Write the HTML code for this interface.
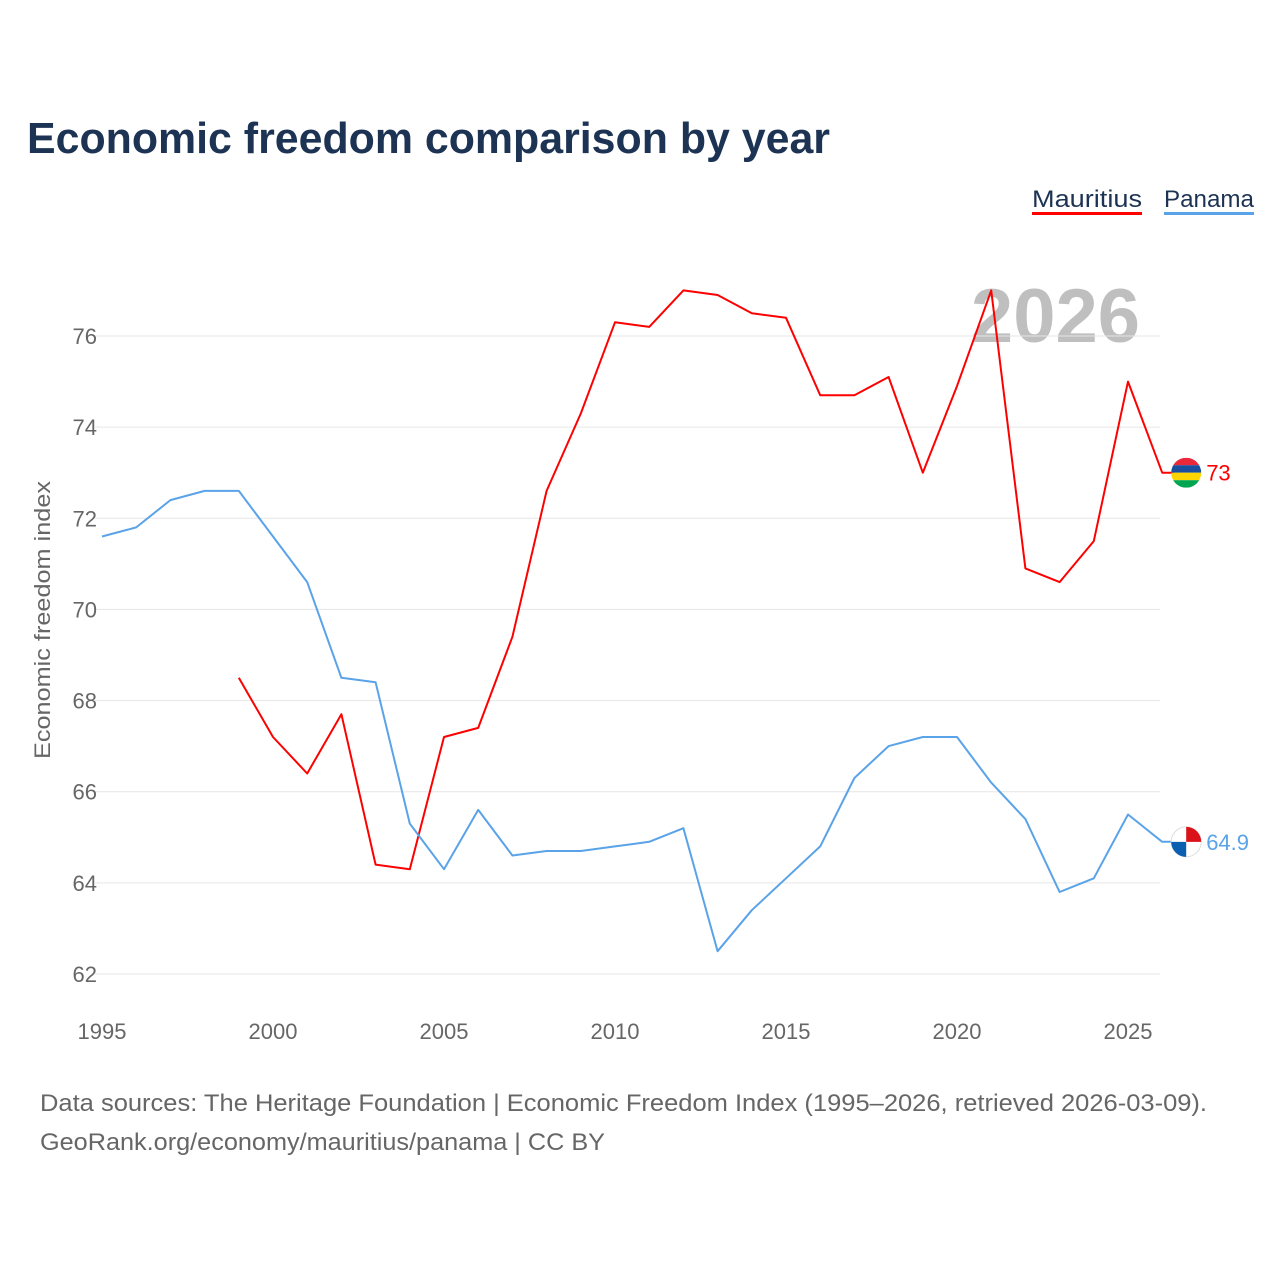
<!DOCTYPE html>
<html><head><meta charset="utf-8">
<style>
body{margin:0;background:#fff;font-family:"Liberation Sans",sans-serif;}
svg text{font-family:"Liberation Sans",sans-serif;}
</style></head>
<body>
<svg id="chart" width="1280" height="1280" xmlns="http://www.w3.org/2000/svg">
<rect width="1280" height="1280" fill="#fff"/>
<text x="27" y="153" font-size="44" font-weight="bold" fill="#1d3354" textLength="803" lengthAdjust="spacingAndGlyphs">Economic freedom comparison by year</text>
<g>
<text x="1032" y="207" font-size="24" fill="#1d3354" textLength="110" lengthAdjust="spacingAndGlyphs">Mauritius</text>
<rect x="1032" y="212" width="110" height="3" fill="#ff0000"/>
<text x="1164" y="207" font-size="24" fill="#1d3354" textLength="90" lengthAdjust="spacingAndGlyphs">Panama</text>
<rect x="1164" y="212" width="90" height="3" fill="#5aa3e8"/>
</g>
<text x="1140" y="342" font-size="76" font-weight="bold" fill="#bfbfbf" text-anchor="end">2026</text>
<g id="grid"></g>
<g id="xticks"></g>
<text transform="translate(50,620) rotate(-90)" font-size="22" fill="#666" text-anchor="middle" textLength="278" lengthAdjust="spacingAndGlyphs">Economic freedom index</text>
<g id="series"></g>
<text x="40" y="1111" font-size="24" fill="#666" textLength="1167" lengthAdjust="spacingAndGlyphs">Data sources: The Heritage Foundation | Economic Freedom Index (1995–2026, retrieved 2026-03-09).</text>
<text x="40" y="1150" font-size="24" fill="#666" textLength="565" lengthAdjust="spacingAndGlyphs">GeoRank.org/economy/mauritius/panama | CC BY</text>
</svg>
<script>
const yTicks=[62,64,66,68,70,72,74,76];
const xTicks=[1995,2000,2005,2010,2015,2020,2025];
const mauritiusYears=[1999,2000,2001,2002,2003,2004,2005,2006,2007,2008,2009,2010,2011,2012,2013,2014,2015,2016,2017,2018,2019,2020,2021,2022,2023,2024,2025,2026];
const mauritiusValues=[68.5,67.2,66.4,67.7,64.4,64.3,67.2,67.4,69.4,72.6,74.3,76.3,76.2,77.0,76.9,76.5,76.4,74.7,74.7,75.1,73.0,74.9,77.0,70.9,70.6,71.5,75.0,73.0];
const panamaYears=[1995,1996,1997,1998,1999,2000,2001,2002,2003,2004,2005,2006,2007,2008,2009,2010,2011,2012,2013,2014,2015,2016,2017,2018,2019,2020,2021,2022,2023,2024,2025,2026];
const panamaValues=[71.6,71.8,72.4,72.6,72.6,71.6,70.6,68.5,68.4,65.3,64.3,65.6,64.6,64.7,64.7,64.8,64.9,65.2,62.5,63.4,64.1,64.8,66.3,67.0,67.2,67.2,66.2,65.4,63.8,64.1,65.5,64.9];
const NS="http://www.w3.org/2000/svg";
const xs=y=>102+(y-1995)*(1026/30);
const ys=v=>336+(76-v)*(638/14);
function mk(t,a,p){const e=document.createElementNS(NS,t);for(const k in a)e.setAttribute(k,a[k]);p.appendChild(e);return e;}
const grid=document.getElementById('grid');
yTicks.forEach(v=>{
  const l=mk('line',{x1:95,x2:1160,y1:ys(v),y2:ys(v),stroke:'#e6e6e6','stroke-width':1},grid);
  
  
  const t=mk('text',{x:97,y:ys(v)+8,'font-size':22,fill:'#666','text-anchor':'end'},grid);
  t.textContent=v;
  
  
});
const xg=document.getElementById('xticks');
xTicks.forEach(y=>{
  const t=mk('text',{x:xs(y),y:1039,'font-size':22,fill:'#666','text-anchor':'middle'},xg);
  t.textContent=y;
  
  
});
const sg=document.getElementById('series');
function line(yrs,vals,color,name){
  let d=yrs.map((y,i)=>(i?'L':'M')+xs(y).toFixed(1)+','+ys(vals[i]).toFixed(1)).join('');
  d+='L'+(xs(yrs[yrs.length-1])+12).toFixed(1)+','+ys(vals[vals.length-1]).toFixed(1);
  const p=mk('path',{d:d,fill:'none',stroke:color,'stroke-width':2,'stroke-linejoin':'round'},sg);
  
  
}
line(mauritiusYears,mauritiusValues,'#ff0000','mauritius');
line(panamaYears,panamaValues,'#5aa3e8','panama');
const mLast=mauritiusValues[mauritiusValues.length-1], mx=xs(2026)+24, my=ys(mLast);
const mk1=mk('g',{},sg);


mk('clipPath',{id:'cm'},mk1).appendChild(document.createElementNS(NS,'circle'));
const cm=mk1.querySelector('#cm circle');cm.setAttribute('cx',mx);cm.setAttribute('cy',my);cm.setAttribute('r',15);
['#ea2839','#1a4fa0','#ffd500','#00a551'].forEach((c,i)=>mk('rect',{x:mx-15,y:my-15+i*7.5,width:30,height:7.5,fill:c,'clip-path':'url(#cm)'},mk1));
const ml=mk('text',{x:mx+20,y:my+8,'font-size':22,fill:'#ff0000'},sg);ml.textContent=mLast;


const pLast=panamaValues[panamaValues.length-1], px=xs(2026)+24, py=ys(pLast);
const mk2=mk('g',{},sg);


mk('circle',{cx:px,cy:py,r:15,fill:'#fff',stroke:'#ddd'},mk2);
mk('path',{d:`M${px},${py-15}A15,15 0 0 1 ${px+15},${py}L${px},${py}Z`,fill:'#da121a'},mk2);
mk('path',{d:`M${px-15},${py}A15,15 0 0 0 ${px},${py+15}L${px},${py}Z`,fill:'#0b5fb0'},mk2);
const pl=mk('text',{x:px+20,y:py+8,'font-size':22,fill:'#5aa3e8'},sg);pl.textContent=pLast;


</script>
</body></html>
